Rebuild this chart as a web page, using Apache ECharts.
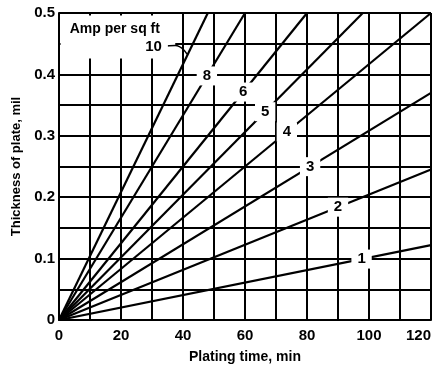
<!DOCTYPE html>
<html>
<head>
<meta charset="utf-8">
<script src="https://cdn.jsdelivr.net/npm/echarts@6/dist/echarts.min.js"></script>
<style>
html,body{margin:0;padding:0;background:#fff;}
#echart{width:435px;height:366px;}
</style>
</head>
<body>
<div id="echart"></div>
<script>
// amp per sq ft, and where each line stops (min, mil)
var amps = [1, 2, 3, 4, 5, 6, 8, 10];
var endMin = [120, 120, 120, 120, 98, 80, 60, 48];
var endMil = [0.122, 0.245, 0.37, 0.5, 0.5, 0.5, 0.5, 0.5];
// where the number sits on its line (min)
var labelMin = [97.6, 90, 81, 73.5, 66.5, 59.4, 47.7];
var xTicks = [0, 20, 40, 60, 80, 100, 120];
var yTicks = [0, 0.1, 0.2, 0.3, 0.4, 0.5];

var font = 'Liberation Sans';
var series = [];
for (var i = 0; i < amps.length; i++) {
	series.push({
		type: 'line', z: 3, symbol: 'none', silent: true,
		lineStyle: {color: '#000', width: 2.2},
		data: [[0, 0], [endMin[i], endMil[i]]]
	});
}
// white box behind the legend title
series[0].markArea = {
	silent: true,
	itemStyle: {color: '#fff', opacity: 1},
	label: {show: false},
	data: [[{coord: [0.5, 0.426]}, {coord: [37.5, 0.496]}]]
};

var lbls = [];
for (var j = 0; j < labelMin.length; j++) {
	lbls.push({value: [labelMin[j], endMil[j] / endMin[j] * labelMin[j]], name: String(amps[j])});
}
// "10" sits off the line, with a short leader
lbls.push({value: [30.5, 0.445], name: '10'});
lbls.push({
	value: [18, 0.473], name: 'Amp per sq ft',
	label: {fontSize: 14, backgroundColor: 'transparent', padding: 0}
});

series.push({
	type: 'line', z: 3, symbol: 'none', smooth: true, silent: true,
	lineStyle: {color: '#000', width: 1.5},
	data: [[33.5, 0.446], [37.5, 0.447], [41.3, 0.433]]
});
series.push({
	type: 'scatter', z: 6, symbolSize: 0, silent: true,
	itemStyle: {opacity: 1},
	data: lbls,
	label: {
		show: true, position: 'inside', opacity: 1,
		formatter: function (p) { return p.name; },
		fontFamily: font, fontWeight: 'bold', fontSize: 15, color: '#000',
		backgroundColor: '#fff', padding: [2, 6]
	}
});

var myChart = echarts.init(document.getElementById('echart'));
myChart.setOption({
	animation: false,
	backgroundColor: '#fff',
	grid: {left: 59, right: 4, top: 13, bottom: 46, containLabel: false, outerBoundsMode: 'none'},
	xAxis: {
		type: 'value', min: 0, max: 120, interval: 10,
		name: 'Plating time, min', nameLocation: 'middle', nameGap: 30,
		nameTextStyle: {fontFamily: font, fontWeight: 'bold', fontSize: 14, color: '#000'},
		axisLine: {lineStyle: {color: '#000', width: 2}},
		axisTick: {show: false},
		splitLine: {show: true, lineStyle: {color: '#000', width: 2}},
		axisLabel: {
			interval: 0, margin: 8, fontFamily: font, fontWeight: 'bold', fontSize: 15, color: '#000',
			alignMaxLabel: 'right',
			formatter: function (v) { return xTicks.indexOf(v) >= 0 ? String(v) : ''; }
		}
	},
	yAxis: {
		type: 'value', min: 0, max: 0.5, interval: 0.05,
		name: 'Thickness of plate, mil', nameLocation: 'middle', nameGap: 36,
		nameTextStyle: {fontFamily: font, fontWeight: 'bold', fontSize: 13, color: '#000'},
		axisLine: {lineStyle: {color: '#000', width: 2}},
		axisTick: {show: false},
		splitLine: {show: true, lineStyle: {color: '#000', width: 2}},
		axisLabel: {
			interval: 0, margin: 4, fontFamily: font, fontWeight: 'bold', fontSize: 15, color: '#000',
			formatter: function (v) {
				var t = Math.round(v * 100) / 100;
				return yTicks.indexOf(t) >= 0 ? String(t) : '';
			}
		}
	},
	series: series
});
</script>
</body>
</html>
